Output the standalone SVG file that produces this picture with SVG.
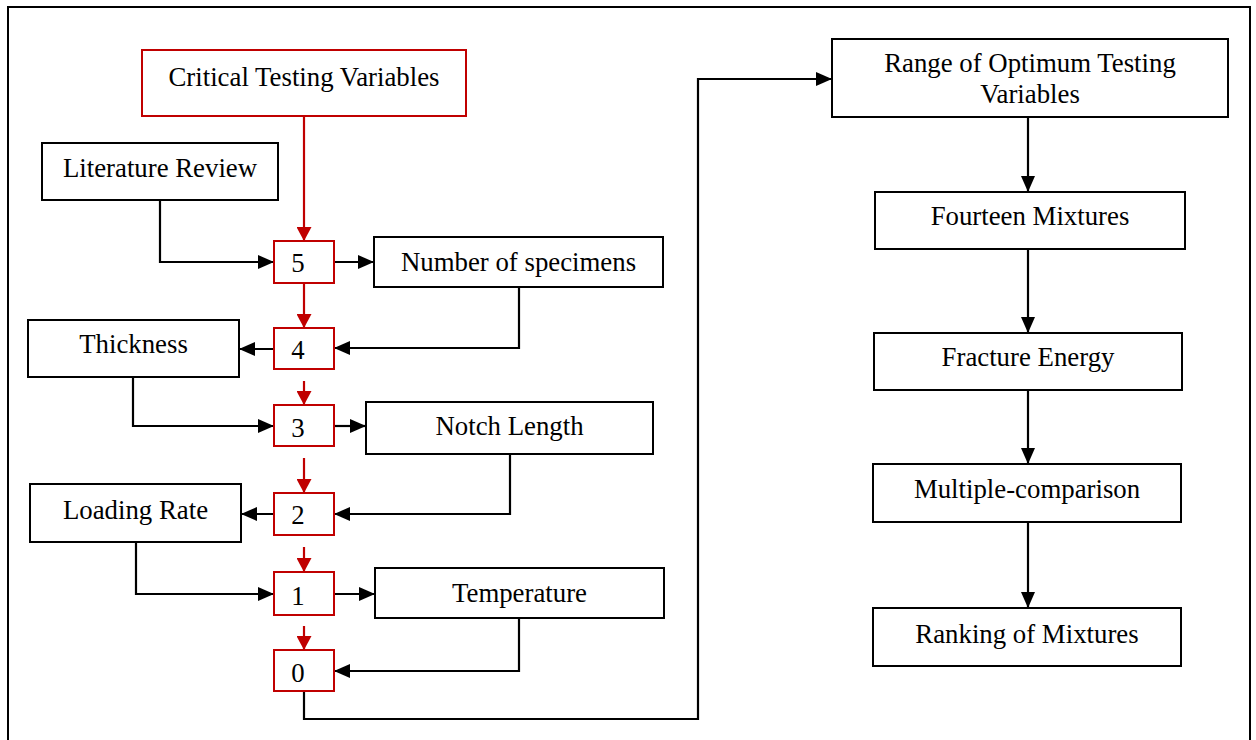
<svg xmlns="http://www.w3.org/2000/svg" width="1256" height="740" viewBox="0 0 1256 740">
<style>
.box{fill:#fff;stroke:#000;stroke-width:2}
.rbox{fill:#fff;stroke:#c00000;stroke-width:2}
text{font-family:"Liberation Serif","Times New Roman",serif;font-size:26.8px;fill:#000;text-anchor:middle}
.c{fill:none;stroke:#000;stroke-width:2.2}
.r{fill:none;stroke:#c00000;stroke-width:2.2}
</style>
<defs>
<marker id="ab" markerUnits="userSpaceOnUse" viewBox="0 0 16 14" refX="16" refY="7" markerWidth="16" markerHeight="14" orient="auto"><path d="M0,0L16,7L0,14z" fill="#000"/></marker>
<marker id="ar" markerUnits="userSpaceOnUse" viewBox="0 0 15 14" refX="14" refY="7.5" markerWidth="15" markerHeight="15" orient="auto"><path d="M0,0L14,7.5L0,15z" fill="#c00000"/></marker>
</defs>
<rect x="0" y="0" width="1256" height="740" fill="#fff"/>
<rect x="8" y="7" width="1242" height="745" fill="none" stroke="#000" stroke-width="2"/>
<g id="connectors">
<path class="r" marker-end="url(#ar)" d="M304,116V241"/>
<path class="r" marker-end="url(#ar)" d="M304,283V328"/>
<path class="r" marker-end="url(#ar)" d="M304,381V405"/>
<path class="r" marker-end="url(#ar)" d="M304,458V493"/>
<path class="r" marker-end="url(#ar)" d="M304,547V572"/>
<path class="r" marker-end="url(#ar)" d="M304,626V650"/>
<path class="c" marker-end="url(#ab)" d="M160,200V262H274"/>
<path class="c" marker-end="url(#ab)" d="M334,262H374"/>
<path class="c" marker-end="url(#ab)" d="M519,287V348H334"/>
<path class="c" marker-end="url(#ab)" d="M274,349H239"/>
<path class="c" marker-end="url(#ab)" d="M133,377V426H274"/>
<path class="c" marker-end="url(#ab)" d="M334,426H366"/>
<path class="c" marker-end="url(#ab)" d="M510,454V514H334"/>
<path class="c" marker-end="url(#ab)" d="M274,514H241"/>
<path class="c" marker-end="url(#ab)" d="M136,542V594H274"/>
<path class="c" marker-end="url(#ab)" d="M334,594H375"/>
<path class="c" marker-end="url(#ab)" d="M519,618V671H334"/>
<path class="c" marker-end="url(#ab)" d="M304,691V719H698V79H832"/>
<path class="c" marker-end="url(#ab)" d="M1028,117V192"/>
<path class="c" marker-end="url(#ab)" d="M1028,249V333"/>
<path class="c" marker-end="url(#ab)" d="M1028,390V464"/>
<path class="c" marker-end="url(#ab)" d="M1028,522V608"/>
</g>
<g id="critical"><rect class="rbox" x="142" y="50" width="324" height="66"/><text x="304" y="86">Critical Testing Variables</text></g>
<g id="literature"><rect class="box" x="42" y="143" width="236" height="57"/><text x="160" y="177">Literature Review</text></g>
<g id="n5"><rect class="rbox" x="274" y="241" width="60" height="42"/><text x="298" y="272">5</text></g>
<g id="specimens"><rect class="box" x="374" y="237" width="289" height="50"/><text x="518.5" y="271">Number of specimens</text></g>
<g id="n4"><rect class="rbox" x="274" y="328" width="60" height="41"/><text x="298" y="359">4</text></g>
<g id="thickness"><rect class="box" x="28" y="320" width="211" height="57"/><text x="133.5" y="353">Thickness</text></g>
<g id="n3"><rect class="rbox" x="274" y="405" width="60" height="41"/><text x="298" y="437">3</text></g>
<g id="notch"><rect class="box" x="366" y="402" width="287" height="52"/><text x="509.5" y="435">Notch Length</text></g>
<g id="n2"><rect class="rbox" x="274" y="493" width="60" height="42"/><text x="298" y="524">2</text></g>
<g id="loading"><rect class="box" x="30" y="484" width="211" height="58"/><text x="135.5" y="519">Loading Rate</text></g>
<g id="n1"><rect class="rbox" x="274" y="572" width="60" height="43"/><text x="298" y="605">1</text></g>
<g id="temperature"><rect class="box" x="375" y="568" width="289" height="50"/><text x="519.5" y="602">Temperature</text></g>
<g id="n0"><rect class="rbox" x="274" y="650" width="60" height="41"/><text x="298" y="682">0</text></g>
<g id="range"><rect class="box" x="832" y="39" width="396" height="78"/><text x="1030" y="72">Range of Optimum Testing</text><text x="1030" y="103">Variables</text></g>
<g id="fourteen"><rect class="box" x="875" y="192" width="310" height="57"/><text x="1030" y="225">Fourteen Mixtures</text></g>
<g id="fracture"><rect class="box" x="874" y="333" width="308" height="57"/><text x="1028" y="366">Fracture Energy</text></g>
<g id="multiple"><rect class="box" x="873" y="464" width="308" height="58"/><text x="1027" y="498">Multiple-comparison</text></g>
<g id="ranking"><rect class="box" x="873" y="608" width="308" height="58"/><text x="1027" y="643">Ranking of Mixtures</text></g>
</svg>
